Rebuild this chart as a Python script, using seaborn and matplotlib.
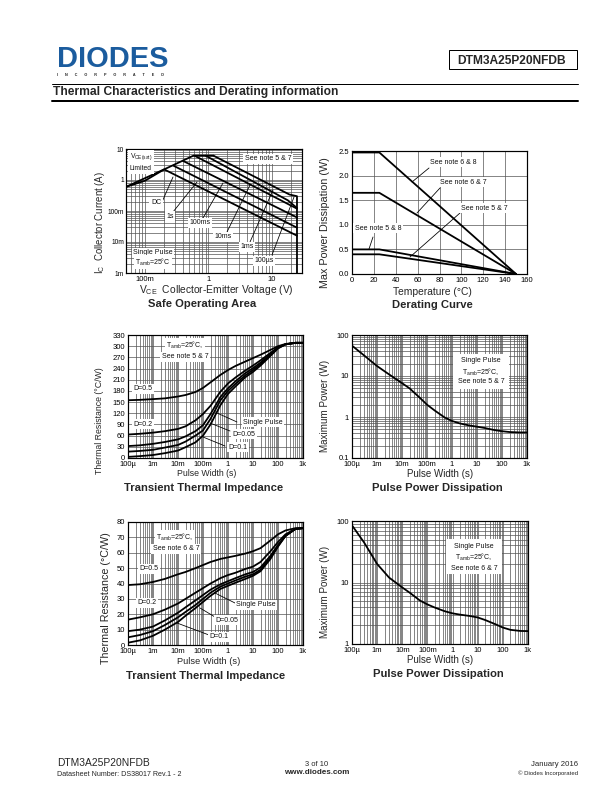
import matplotlib
matplotlib.use('Agg')
import matplotlib.pyplot as plt
from matplotlib.lines import Line2D
from matplotlib.patches import Rectangle
from matplotlib.ticker import FixedLocator, NullFormatter
import seaborn as sns

# safe operating area, (A) against (V)
soa_dc_v = [0.05, 0.2, 25]
soa_dc_a = [0.6, 2.2, 0.016]
soa_1s_v = [0.28, 25]
soa_1s_a = [2.9, 0.029]
soa_100ms_v = [0.4, 25]
soa_100ms_a = [4.1, 0.062]
soa_10ms_v = [0.6, 25]
soa_10ms_a = [6.1, 0.119]
soa_1ms_v = [0.9, 18, 25]
soa_1ms_a = [6.1, 0.22, 0.125]
soa_100us_v = [1.2, 19, 25, 25]
soa_100us_a = [6.1, 0.34, 0.3, 0.001]
soa_limit_v = [0.05, 0.1, 0.2, 0.58, 1.2]
soa_limit_a = [0.6, 0.95, 2.2, 6.1, 6.1]

# derating
temp = [0, 25, 150]
derate_68 = [2.47, 2.47, 0]
derate_67 = [1.65, 1.65, 0]
derate_58 = [0.5, 0.5, 0]
derate_57 = [0.4, 0.4, 0]

pulse = [1e-4, 3e-4, 1e-3, 3e-3, 0.01, 0.02, 0.05, 0.1, 0.2, 0.5, 1, 2, 5, 10, 20, 50, 100, 200, 500, 1000]
pulse_ticks = [1e-4, 1e-3, 1e-2, 0.1, 1, 10, 100, 1000]
pulse_labels = ['100µ', '1m', '10m', '100m', '1', '10', '100', '1k']

# transient impedance, notes 5 & 7
z1_d05 = [155, 156, 158, 160, 165, 169, 177, 188, 203, 223, 236, 247, 259, 268, 277, 290, 300, 306, 309, 309]
z1_d02 = [63, 65, 68, 72, 78, 85, 101, 118, 140, 178, 200, 216, 235, 248, 262, 282, 297, 305, 309, 309]
z1_d01 = [32, 34, 38, 43, 50, 58, 72, 88, 118, 164, 187, 206, 228, 241, 256, 279, 296, 305, 309, 309]
z1_d005 = [17, 19, 22, 28, 35, 44, 60, 74, 105, 155, 180, 199, 222, 236, 252, 276, 295, 305, 309, 309]
z1_single = [3, 5, 8, 13, 20, 29, 42, 60, 90, 142, 172, 192, 217, 231, 248, 274, 294, 305, 309, 309]

# transient impedance, notes 6 & 7
z2_d05 = [39, 39.5, 41, 43, 46, 47.5, 50, 52, 54, 56, 57, 58, 59.5, 61, 63, 68, 72, 74.5, 76, 76]
z2_d02 = [16.5, 18, 20, 23, 27, 30, 34, 37, 40, 43.5, 45.5, 47, 49.5, 51, 54, 61, 67, 72, 75.5, 76]
z2_d01 = [9, 10, 12, 16, 21, 24.5, 29, 32.5, 36, 39.5, 41.5, 43.5, 46, 47.5, 50.5, 58, 65, 71, 75.5, 76]
z2_d005 = [5, 6.5, 9, 13, 18, 21.5, 26, 30, 34, 38, 40, 42, 44.5, 46, 49, 57, 64.5, 71, 75.5, 76]
z2_single = [1.5, 3, 6, 10, 15, 19, 24, 28, 32, 36.5, 38.5, 40.5, 43, 45, 48, 56, 64, 71, 75.5, 76]

# pulse power
p1_power = [55, 32, 17.5, 11, 6.7, 5.0, 3.0, 2.0, 1.45, 0.98, 0.8, 0.7, 0.62, 0.58, 0.54, 0.48, 0.45, 0.43, 0.42, 0.42]
p2_power = [85, 45, 20, 12, 8.3, 6.8, 5.1, 4.4, 3.9, 3.4, 3.15, 3.0, 2.85, 2.7, 2.45, 2.1, 1.85, 1.7, 1.63, 1.62]

sns.set_theme(style='white')
plt.rcParams['font.family'] = ['Liberation Sans', 'DejaVu Sans']
plt.rcParams['mathtext.default'] = 'regular'

W, H = 612, 792
GRID = '#555555'
fig = plt.figure(figsize=(8.5, 11), dpi=72, facecolor='white')


def box(left, top, right, bottom):
    ax = fig.add_axes([left / W, 1 - bottom / H, (right - left) / W, (bottom - top) / H])
    ax.set_axisbelow(True)
    for s in ax.spines.values():
        s.set_color('black')
        s.set_linewidth(1.2)
    ax.tick_params(which='both', length=0, labelsize=7.6, pad=3, colors='black')
    return ax


def log_axis(axis, ticks, labels):
    minor = [m * 10.0 ** e for e in range(-6, 4) for m in range(2, 10)]
    axis.set_major_locator(FixedLocator(ticks))
    axis.set_ticklabels(labels)
    axis.set_minor_locator(FixedLocator(minor))
    axis.set_minor_formatter(NullFormatter())


def curve(ax, xs, ys, lw=1.8):
    sns.lineplot(x=xs, y=ys, ax=ax, color='black', lw=lw, sort=False, estimator=None)


def note(x, y, s, size=7, ha='center', bg=True):
    bbox = dict(fc='white', ec='none', pad=1.6) if bg else None
    fig.text(x / W, 1 - y / H, s, fontsize=size, ha=ha, va='center', bbox=bbox, color='#111111')


def lead(x0, y0, x1, y1):
    fig.add_artist(Line2D([x0 / W, x1 / W], [1 - y0 / H, 1 - y1 / H], color='black', lw=0.8))


def title(x, y, s):
    fig.text(x / W, 1 - y / H, s, fontsize=11.2, fontweight='bold', ha='center', va='center')


def xlab(x, y, s, size=8.8):
    fig.text(x / W, 1 - y / H, s, fontsize=size, ha='center', va='center')


def ylab(x, y, s, size=8.7):
    fig.text(x / W, 1 - y / H, s, fontsize=size, ha='center', va='center', rotation=90)


# header
fig.text(57 / W, 1 - 67 / H, 'DIODES', fontsize=29, fontweight='bold', color='#1b5c9e', ha='left', va='baseline')
fig.text(57 / W, 1 - 74.5 / H, '       '.join('INCORPORATED'), fontsize=3.8, fontweight='bold', color='#222222',
         ha='left', va='center')
fig.add_artist(Rectangle((449 / W, 1 - 69 / H), 128 / W, 19 / H, fc='white', ec='black', lw=1, transform=fig.transFigure))
fig.text(512 / W, 1 - 60.5 / H, 'DTM3A25P20NFDB', fontsize=12, fontweight='bold', ha='center', va='center')
fig.add_artist(Line2D([52 / W, 578 / W], [1 - 83.5 / H] * 2, color='black', lw=1))
fig.add_artist(Line2D([52 / W, 578 / W], [1 - 100.5 / H] * 2, color='black', lw=2))
fig.text(53 / W, 1 - 91.5 / H, 'Thermal Characteristics and Derating information', fontsize=12, fontweight='bold',
         ha='left', va='center')

# footer
fig.text(57 / W, 1 - 763 / H, 'DTM3A25P20NFDB', fontsize=10.2, ha='left', va='center')
fig.text(57 / W, 1 - 775 / H, 'Datasheet Number: DS38017 Rev.1 - 2', fontsize=7.1, ha='left', va='center')
fig.text(317 / W, 1 - 764 / H, '3 of 10', fontsize=7.5, ha='center', va='center')
fig.text(317 / W, 1 - 773 / H, 'www.diodes.com', fontsize=8, fontweight='bold', ha='center', va='center')
fig.text(578 / W, 1 - 765 / H, 'January 2016', fontsize=7.8, ha='right', va='center')
fig.text(578 / W, 1 - 773 / H, '© Diodes Incorporated', fontsize=6, ha='right', va='center')

# safe operating area
ax = box(126, 149, 302, 273)
ax.set_xscale('log')
ax.set_yscale('log')
ax.set_xlim(0.05, 30)
ax.set_ylim(0.001, 10)
log_axis(ax.xaxis, [0.1, 1, 10], ['100m', '1', '10'])
log_axis(ax.yaxis, [0.001, 0.01, 0.1, 1, 10], ['1m', '10m', '100m', '1', '10'])
ax.tick_params(axis='y', labelsize=6.6, pad=2)
ax.grid(which='both', color=GRID, lw=0.7)
for xs, ys in [(soa_dc_v, soa_dc_a), (soa_1s_v, soa_1s_a), (soa_100ms_v, soa_100ms_a), (soa_10ms_v, soa_10ms_a),
               (soa_1ms_v, soa_1ms_a), (soa_100us_v, soa_100us_a), (soa_limit_v, soa_limit_a)]:
    curve(ax, xs, ys)
lead(162, 202, 173, 177)
lead(173, 212, 197, 182)
lead(203, 218, 223, 183)
lead(227, 232, 250, 185)
lead(250, 242, 273, 190)
lead(272, 255, 294, 197)
note(130, 157, 'V$_{CE(sat)}$', ha='left', size=6.8)
note(130, 169, 'Limited', ha='left', size=6.8)
note(268, 159, 'See note 5 & 7')
note(156, 203, 'DC')
note(170, 216, '1s')
note(200, 223, '100ms')
note(223, 237, '10ms')
note(247, 247, '1ms')
note(264, 261, '100µs')
note(153, 253, 'Single Pulse')
note(153, 262, 'T$_{amb}$=25°C')
ylab(100, 223, 'I$_{C}$  Collector Current (A)', size=9.6)
xlab(216, 290, 'V$_{CE}$  Collector-Emitter Voltage (V)', size=10.2)
title(202, 304, 'Safe Operating Area')

# derating
ax = box(352, 151, 527, 274)
ax.set_xlim(0, 160)
ax.set_ylim(0, 2.5)
ax.set_xticks(range(0, 161, 20))
ax.set_yticks([0, 0.5, 1.0, 1.5, 2.0, 2.5])
ax.set_yticklabels(['0.0', '0.5', '1.0', '1.5', '2.0', '2.5'])
ax.grid(which='major', color=GRID, lw=0.7)
for ys in [derate_68, derate_67, derate_58, derate_57]:
    curve(ax, temp, ys)
lead(429, 168, 412, 182)
lead(440, 188, 417, 213)
lead(460, 213, 410, 257)
lead(373, 237, 369, 249)
note(453, 162, 'See note 6 & 8')
note(463, 182, 'See note 6 & 7')
note(484, 208, 'See note 5 & 7')
note(378, 228, 'See note 5 & 8')
ylab(325, 223, 'Max Power Dissipation (W)', size=10.7)
xlab(432, 292, 'Temperature (°C)', size=10.2)
title(432, 305, 'Derating Curve')

# transient impedance 5 & 7
ax = box(128, 335, 303, 458)
ax.set_xscale('log')
ax.set_xlim(1e-4, 1000)
ax.set_ylim(0, 330)
log_axis(ax.xaxis, pulse_ticks, pulse_labels)
ax.set_yticks(range(0, 331, 30))
ax.grid(which='both', axis='x', color=GRID, lw=0.7)
ax.grid(which='major', axis='y', color=GRID, lw=0.7)
for ys in [z1_d05, z1_d02, z1_d01, z1_d005, z1_single]:
    curve(ax, pulse, ys)
lead(237, 422, 217, 413)
lead(230, 431, 210, 423)
lead(225, 446, 203, 437)
note(185, 345, 'T$_{amb}$=25°C,')
note(185, 357, 'See note 5 & 7')
note(143, 389, 'D=0.5')
note(143, 424, 'D=0.2')
note(263, 422, 'Single Pulse')
note(244, 434, 'D=0.05')
note(238, 447, 'D=0.1')
ylab(100, 421, 'Thermal Resistance (°C/W)')
xlab(207, 474, 'Pulse Width (s)')
title(204, 488, 'Transient Thermal Impedance')

# pulse power 5 & 7
ax = box(352, 335, 527, 458)
ax.set_xscale('log')
ax.set_yscale('log')
ax.set_xlim(1e-4, 1000)
ax.set_ylim(0.1, 100)
log_axis(ax.xaxis, pulse_ticks, pulse_labels)
log_axis(ax.yaxis, [0.1, 1, 10, 100], ['0.1', '1', '10', '100'])
ax.grid(which='both', color=GRID, lw=0.7)
curve(ax, pulse, p1_power)
fig.add_artist(Rectangle((453 / W, 1 - 389 / H), 56 / W, 35 / H, fc='white', ec='none', transform=fig.transFigure))
note(481, 360, 'Single Pulse')
note(481, 372, 'T$_{amb}$=25°C,')
note(481, 382, 'See note 5 & 7')
ylab(325, 406, 'Maximum Power (W)', size=9.9)
xlab(440, 474, 'Pulse Width (s)', size=9.8)
title(437, 488, 'Pulse Power Dissipation')

# transient impedance 6 & 7
ax = box(128, 522, 303, 645)
ax.set_xscale('log')
ax.set_xlim(1e-4, 1000)
ax.set_ylim(0, 80)
log_axis(ax.xaxis, pulse_ticks, pulse_labels)
ax.set_yticks(range(0, 81, 10))
ax.grid(which='both', axis='x', color=GRID, lw=0.7)
ax.grid(which='major', axis='y', color=GRID, lw=0.7)
for ys in [z2_d05, z2_d02, z2_d01, z2_d005, z2_single]:
    curve(ax, pulse, ys)
lead(237, 604, 215, 593)
lead(215, 617, 200, 608)
lead(209, 635, 177, 623)
note(175, 537, 'T$_{amb}$=25°C,')
note(176, 549, 'See note 6 & 7')
note(149, 569, 'D=0.5')
note(147, 603, 'D=0.2')
note(256, 605, 'Single Pulse')
note(227, 620, 'D=0.05')
note(219, 637, 'D=0.1')
ylab(106, 598, 'Thermal Resistance (°C/W)', size=10.7)
xlab(209, 662, 'Pulse Width (s)', size=9.3)
title(206, 676, 'Transient Thermal Impedance')

# pulse power 6 & 7
ax = box(352, 521, 528, 644)
ax.set_xscale('log')
ax.set_yscale('log')
ax.set_xlim(1e-4, 1000)
ax.set_ylim(1, 100)
log_axis(ax.xaxis, pulse_ticks, pulse_labels)
log_axis(ax.yaxis, [1, 10, 100], ['1', '10', '100'])
ax.grid(which='both', color=GRID, lw=0.7)
curve(ax, pulse, p2_power)
fig.add_artist(Rectangle((446 / W, 1 - 574 / H), 56 / W, 35 / H, fc='white', ec='none', transform=fig.transFigure))
note(474, 547, 'Single Pulse')
note(474, 557, 'T$_{amb}$=25°C,')
note(474, 568, 'See note 6 & 7')
ylab(325, 592, 'Maximum Power (W)', size=9.9)
xlab(440, 660, 'Pulse Width (s)', size=9.8)
title(438, 674, 'Pulse Power Dissipation')

fig.savefig('out.png', dpi=72)
